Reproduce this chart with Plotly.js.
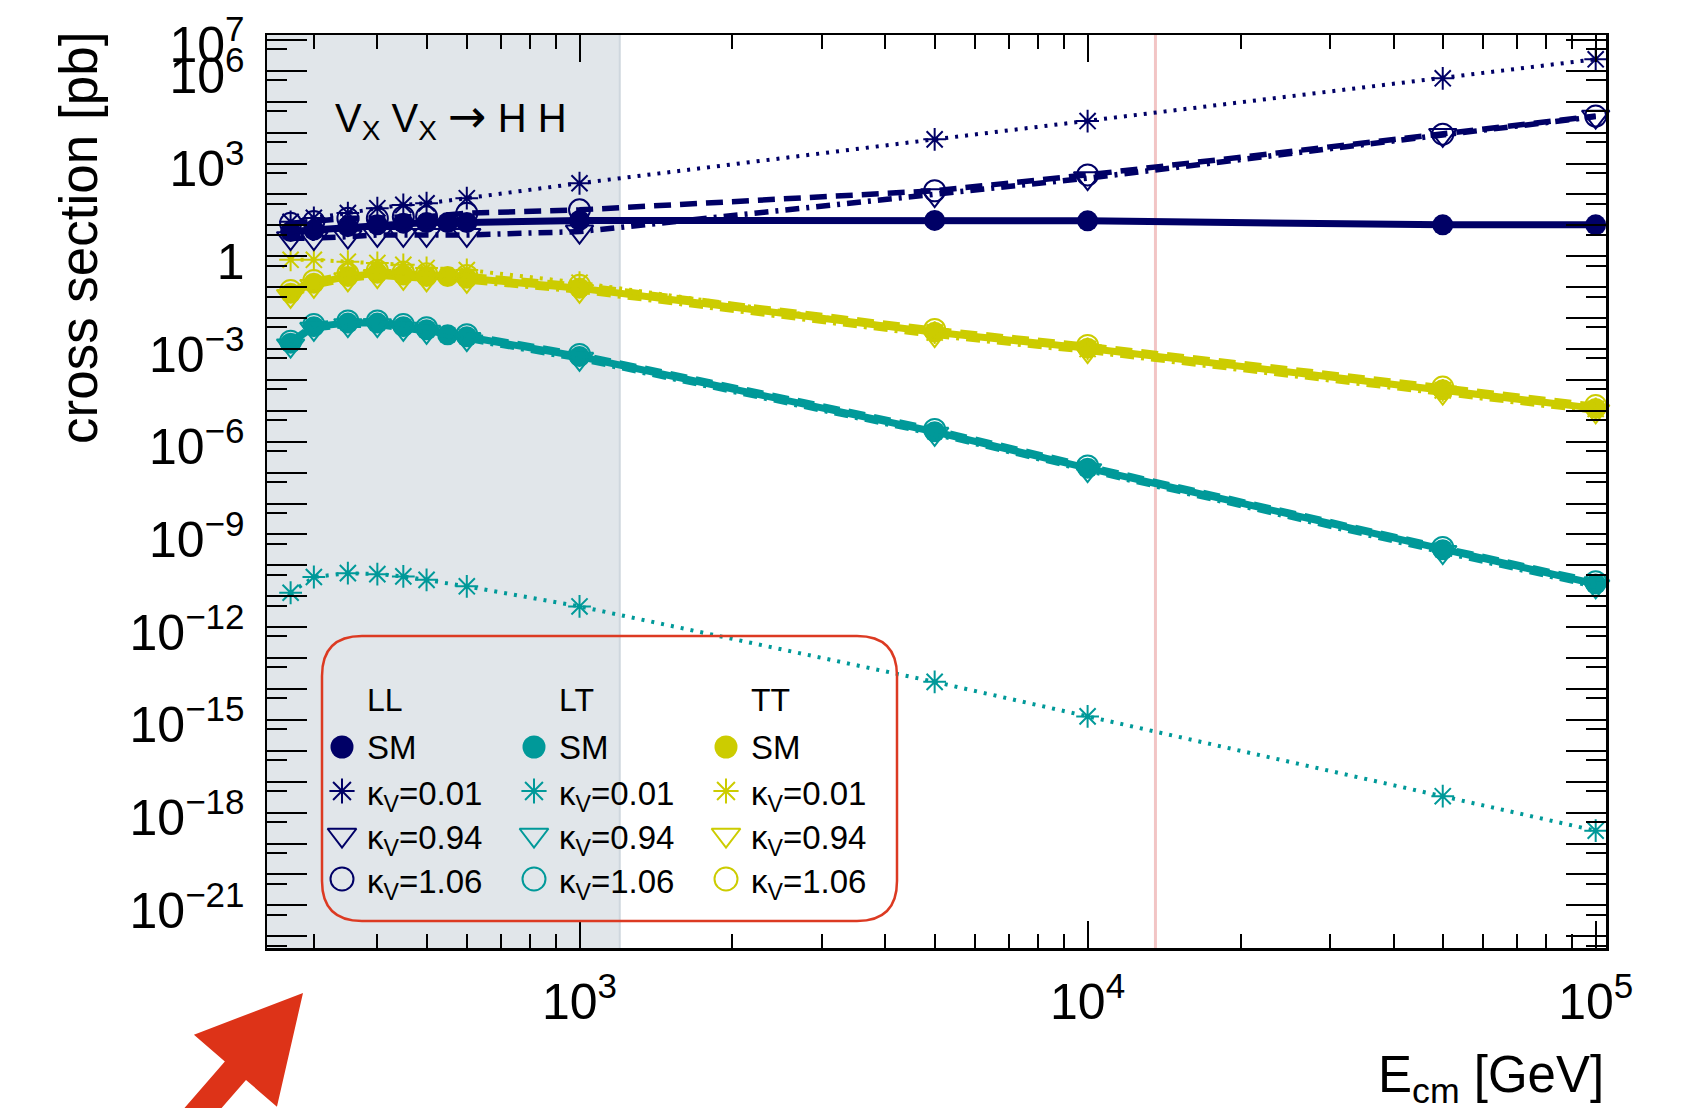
<!DOCTYPE html>
<html>
<head>
<meta charset="utf-8">
<script src="https://cdn.plot.ly/plotly-3.0.1.min.js"></script>
<style>
  html, body { margin: 0; padding: 0; background: #ffffff; }
  #plot { width: 1681px; height: 1108px; }
</style>
</head>
<body>
<div id="plot"></div>
<script>
// Centre-of-mass energies [GeV]
const energySM = [270, 300, 350, 400, 450, 500, 550, 600, 1000, 5000, 10000, 50000, 100000];
const energyKV = [270, 300, 350, 400, 450, 500, 600, 1000, 5000, 10000, 50000, 100000];

// Cross sections [pb], longitudinal-longitudinal (LL)
const llSM   = [6.3, 7.1, 9.1, 10.4, 11.8, 12.3, 12.3, 12.3, 14.5, 14.5, 14.0, 10.4, 10.4];
const llK001 = [13, 17.5, 25, 36, 46, 52, 76, 231, 6080, 23800, 5.75e5, 2.37e6];
const llK094 = [3.85, 3.85, 4.3, 4.9, 4.9, 4.9, 4.9, 6.3, 95, 336, 8430, 33000];
const llK106 = [11.8, 13.3, 17, 17, 19.2, 19.2, 24.8, 31.8, 132, 430, 8900, 34500];

// Longitudinal-transverse (LT)
const ltSM   = [1.55e-3, 5.3e-3, 6.9e-3, 6.9e-3, 5.3e-3, 4.2e-3, 2.9e-3, 2.5e-3, 5.7e-4, 2.1e-6, 1.4e-7, 3.2e-10, 2.5e-11];
const ltK001 = [1.3e-11, 4.2e-11, 5.6e-11, 5.2e-11, 4.4e-11, 3.4e-11, 2.1e-11, 4.7e-12, 1.7e-14, 1.3e-15, 3.4e-18, 2.6e-19];
const ltK094 = [1.3e-3, 4.5e-3, 5.9e-3, 5.9e-3, 4.5e-3, 3.6e-3, 2.1e-3, 4.8e-4, 1.8e-6, 1.2e-7, 2.7e-10, 2.1e-11];
const ltK106 = [1.8e-3, 6.2e-3, 8.1e-3, 8.1e-3, 6.2e-3, 4.9e-3, 2.9e-3, 6.7e-4, 2.5e-6, 1.65e-7, 3.8e-10, 2.95e-11];

// Transverse-transverse (TT)
const ttSM   = [0.064, 0.135, 0.22, 0.284, 0.25, 0.22, 0.22, 0.195, 0.093, 3.5e-3, 1.06e-3, 4.8e-5, 1.2e-5];
const ttK001 = [0.77, 0.77, 0.67, 0.61, 0.53, 0.42, 0.36, 0.14, 3.4e-3, 1.0e-3, 4.6e-5, 1.15e-5];
const ttK094 = [0.052, 0.11, 0.18, 0.23, 0.2, 0.18, 0.16, 0.076, 2.8e-3, 8.5e-4, 3.9e-5, 9.7e-6];
const ttK106 = [0.078, 0.165, 0.27, 0.35, 0.31, 0.27, 0.24, 0.115, 4.3e-3, 1.3e-3, 5.9e-5, 1.48e-5];

// Axis labels
const yLabelExponents = [-21, -18, -15, -12, -9, -6, -3, 0, 3, 6, 7];
const xLabelExponents = [3, 4, 5];
const polarisations = ['LL', 'LT', 'TT'];
const legendLabels = ['SM', 'κ<sub>V</sub>=0.01', 'κ<sub>V</sub>=0.94', 'κ<sub>V</sub>=1.06'];

// Shaded low-energy band upper edge and reference energy line [GeV]
const bandUpper = 1200;
const refEnergy = 13600;

const NAVY = '#000066', TEAL = '#009999', OLIVE = '#cccc00';
const FONT = 'Liberation Sans, Arial, Helvetica, sans-serif';

// figure geometry in pixels
const W = 1681, H = 1108;
const M = { l: 267, r: 75, t: 35, b: 160 };
const PW = W - M.l - M.r, PH = H - M.t - M.b;
const px = x => (x - M.l) / PW;
const py = y => (H - M.b - y) / PH;

const xRange = [2.3849, 5.0203];
const yRange = [-22.38, 7.16];

function powLabel(e) {
  if (e === 0) return '1';
  return '10<sup>' + (e < 0 ? '\u2212' + (-e) : e) + '</sup>';
}

// decade ticks (labelled every third decade plus the top one)
const yTickVals = [], yTickText = [], yMinorVals = [];
for (let e = -23; e <= 7; e++) {
  yTickVals.push(Math.pow(10, e));
  yTickText.push(yLabelExponents.includes(e) ? powLabel(e) : '');
  yMinorVals.push(5 * Math.pow(10, e - 1));
}
const xTickVals = [], xTickText = [], xMinorVals = [];
for (let e = 2; e <= 5; e++) {
  xTickVals.push(Math.pow(10, e));
  xTickText.push(xLabelExponents.includes(e) ? powLabel(e) : '');
  for (let k = 2; k <= 9; k++) xMinorVals.push(k * Math.pow(10, e));
}

function series(x, y, color, kind) {
  const styles = {
    sm:   { dash: 'solid', width: 7, symbol: 'circle', size: 21, lw: 0 },
    k001: { dash: '3px,7px', width: 4, symbol: 'asterisk-open', size: 19, lw: 2 },
    k094: { dash: '14px,7px,3px,7px', width: 5.5, symbol: 'triangle-down-open', size: 24, lw: 2 },
    k106: { dash: '17px,9px', width: 5.5, symbol: 'circle-open', size: 21, lw: 2 }
  };
  const s = styles[kind];
  return {
    x: x, y: y, type: 'scatter', mode: 'lines+markers',
    line: { color: color, width: s.width, dash: s.dash },
    marker: { symbol: s.symbol, size: s.size, color: color, opacity: 1, line: { color: color, width: s.lw } },
    cliponaxis: false, showlegend: false, hoverinfo: 'skip'
  };
}

const traces = [
  series(energySM, ttSM, OLIVE, 'sm'),
  series(energyKV, ttK001, OLIVE, 'k001'),
  series(energyKV, ttK094, OLIVE, 'k094'),
  series(energyKV, ttK106, OLIVE, 'k106'),
  series(energySM, ltSM, TEAL, 'sm'),
  series(energyKV, ltK001, TEAL, 'k001'),
  series(energyKV, ltK094, TEAL, 'k094'),
  series(energyKV, ltK106, TEAL, 'k106'),
  series(energySM, llSM, NAVY, 'sm'),
  series(energyKV, llK001, NAVY, 'k001'),
  series(energyKV, llK094, NAVY, 'k094'),
  series(energyKV, llK106, NAVY, 'k106')
];

// legend glyphs on an overlay axis pair spanning the plot area
const legCols = [342, 534, 726];
const legTextX = [365, 557, 749];
const legHeadY = 700;
const legRows = [747, 791, 835, 879];
const legColors = [NAVY, TEAL, OLIVE];
legColors.forEach((c, i) => {
  traces.push({
    x: legRows.map(() => px(legCols[i])),
    y: legRows.map(r => py(r)),
    xaxis: 'x2', yaxis: 'y2', type: 'scatter', mode: 'markers',
    marker: {
      symbol: ['circle', 'asterisk-open', 'triangle-down-open', 'circle-open'],
      size: [23, 21, 25, 23], color: c, opacity: 1,
      line: { color: c, width: [0, 2, 2, 2] }
    },
    cliponaxis: false, showlegend: false, hoverinfo: 'skip'
  });
});

const annotations = [];
polarisations.forEach((p, i) => {
  annotations.push({ xref: 'paper', yref: 'paper', x: px(legTextX[i]), y: py(legHeadY),
    xanchor: 'left', yanchor: 'middle', text: p, showarrow: false,
    font: { family: FONT, size: 32, color: '#000' } });
  legendLabels.forEach((t, j) => {
    annotations.push({ xref: 'paper', yref: 'paper', x: px(legTextX[i]), y: py(legRows[j] + (j ? 5 : 0)),
      xanchor: 'left', yanchor: 'middle', text: t, showarrow: false,
      font: { family: FONT, size: 33, color: '#000' } });
  });
});
annotations.push({ xref: 'paper', yref: 'paper', x: px(333), y: py(117),
  xanchor: 'left', yanchor: 'middle', showarrow: false,
  text: 'V<sub>X</sub> V<sub>X</sub>\u00a0<span style="font-family:DejaVu Sans;font-size:46px">\u2192</span>\u00a0H H',
  font: { family: FONT, size: 40, color: '#000' } });
annotations.push({ xref: 'paper', yref: 'paper', x: px(79), y: py(238),
  xanchor: 'center', yanchor: 'middle', textangle: -90, showarrow: false,
  text: 'cross section [pb]', font: { family: FONT, size: 53, color: '#000' } });
annotations.push({ xref: 'paper', yref: 'paper', x: px(1606), y: py(1078),
  xanchor: 'right', yanchor: 'middle', showarrow: false,
  text: 'E<sub>cm</sub> [GeV]', font: { family: FONT, size: 51, color: '#000' } });

// rounded legend frame
function roundedBox(x0, y0, x1, y1, r) {
  const P = (x, y) => px(x) + ',' + py(y);
  return 'M' + P(x0 + r, y0) + ' L' + P(x1 - r, y0) + ' Q' + P(x1, y0) + ' ' + P(x1, y0 + r) +
    ' L' + P(x1, y1 - r) + ' Q' + P(x1, y1) + ' ' + P(x1 - r, y1) +
    ' L' + P(x0 + r, y1) + ' Q' + P(x0, y1) + ' ' + P(x0, y1 - r) +
    ' L' + P(x0, y0 + r) + ' Q' + P(x0, y0) + ' ' + P(x0 + r, y0) + ' Z';
}

// arrow pointing up-right towards the low-energy corner
function arrowPath() {
  const tip = [303, 993], ang = -49 * Math.PI / 180;
  const d = [Math.cos(ang), Math.sin(ang)];          // along the arrow
  const n = [-d[1], d[0]];                            // perpendicular
  const head = 103, half = 55, shaft = 14, len = 260;
  const b = [tip[0] - d[0] * head, tip[1] - d[1] * head];
  const pts = [
    tip,
    [b[0] + n[0] * half, b[1] + n[1] * half],
    [b[0] + n[0] * shaft, b[1] + n[1] * shaft],
    [b[0] + n[0] * shaft - d[0] * len, b[1] + n[1] * shaft - d[1] * len],
    [b[0] - n[0] * shaft - d[0] * len, b[1] - n[1] * shaft - d[1] * len],
    [b[0] - n[0] * shaft, b[1] - n[1] * shaft],
    [b[0] - n[0] * half, b[1] - n[1] * half]
  ];
  return pts.map((p, i) => (i ? 'L' : 'M') + px(p[0]) + ',' + py(p[1])).join(' ') + ' Z';
}

const shapes = [
  { type: 'rect', xref: 'x', yref: 'paper', x0: Math.pow(10, xRange[0]), x1: bandUpper, y0: 0, y1: 1,
    fillcolor: '#e1e6ea', line: { width: 0 }, layer: 'below' },
  { type: 'line', xref: 'x', yref: 'paper', x0: bandUpper, x1: bandUpper, y0: 0, y1: 1,
    line: { color: '#cfd7de', width: 2 }, layer: 'below' },
  { type: 'line', xref: 'x', yref: 'paper', x0: refEnergy, x1: refEnergy, y0: 0, y1: 1,
    line: { color: 'rgba(232,150,150,0.55)', width: 3 }, layer: 'below' },
  { type: 'path', xref: 'paper', yref: 'paper', path: roundedBox(322, 636, 897, 921, 40),
    line: { color: '#dc3a22', width: 2.5 }, fillcolor: 'rgba(0,0,0,0)' },
  { type: 'path', xref: 'paper', yref: 'paper', path: arrowPath(),
    line: { width: 0 }, fillcolor: '#dd3318' }
];

const axisCommon = {
  type: 'log', showgrid: false, zeroline: false, showline: true, linecolor: '#000', linewidth: 2.5,
  mirror: 'ticks', ticks: 'inside', tickcolor: '#000', tickwidth: 2, tickmode: 'array',
  tickfont: { family: FONT, size: 50, color: '#000' }, automargin: false
};

const layout = {
  width: W, height: H, margin: M,
  paper_bgcolor: '#ffffff', plot_bgcolor: '#ffffff',
  showlegend: false, hovermode: false,
  xaxis: Object.assign({}, axisCommon, {
    range: xRange, tickvals: xTickVals, ticktext: xTickText, ticklen: 27, ticklabelstandoff: 8,
    minor: { tickmode: 'array', tickvals: xMinorVals, ticks: 'inside', ticklen: 14, tickwidth: 2, tickcolor: '#000', showgrid: false }
  }),
  yaxis: Object.assign({}, axisCommon, {
    range: yRange, tickvals: yTickVals, ticktext: yTickText, ticklen: 40, ticklabelstandoff: 10,
    ticklabelshift: 5,
    minor: { tickmode: 'array', tickvals: yMinorVals, ticks: 'inside', ticklen: 20, tickwidth: 2, tickcolor: '#000', showgrid: false }
  }),
  xaxis2: { overlaying: 'x', range: [0, 1], visible: false, fixedrange: true },
  yaxis2: { overlaying: 'y', range: [0, 1], visible: false, fixedrange: true },
  shapes: shapes,
  annotations: annotations,
  font: { family: FONT, color: '#000' }
};

Plotly.newPlot('plot', traces, layout, { staticPlot: true, displayModeBar: false });
</script>
</body>
</html>
